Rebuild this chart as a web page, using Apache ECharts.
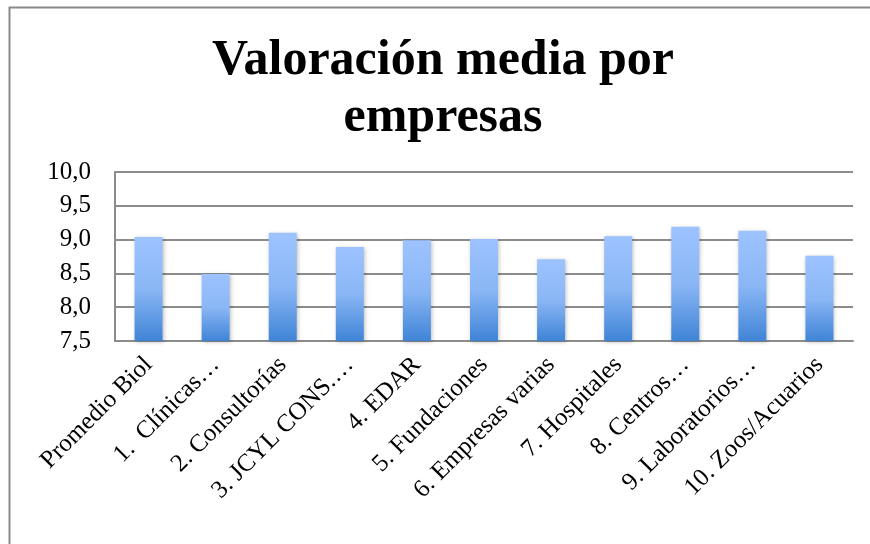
<!DOCTYPE html>
<html>
<head>
<meta charset="utf-8">
<script src="https://cdn.jsdelivr.net/npm/echarts@6/dist/echarts.min.js"></script>
<style>
  html, body { margin: 0; padding: 0; background: #fff; }
  #chart { width: 870px; height: 544px; }
</style>
</head>
<body>
<div id="chart"></div>
<script>
const titleText = "Valoración media por\nempresas";
const categories = [
  "Promedio Biol", "1.  Clínicas…", "2. Consultorías", "3. JCYL CONS.…",
  "4. EDAR", "5. Fundaciones", "6. Empresas varias", "7. Hospitales",
  "8. Centros…", "9. Laboratorios…", "10. Zoos/Acuarios"
];
const values = [9.04, 8.49, 9.10, 8.89, 8.99, 9.01, 8.71, 9.05, 9.19, 9.13, 8.76];

const serif = "'Liberation Serif', 'DejaVu Serif', serif";
const chart = echarts.init(document.getElementById("chart"));

chart.setOption({
  animation: false,
  backgroundColor: "#fff",
  graphic: [{
    type: "polyline",
    shape: { points: [[9.5, 544], [9.5, 7.5], [870, 7.5]] },
    style: { stroke: "#8a8a8a", lineWidth: 2, fill: null }
  }],
  title: {
    text: titleText,
    left: 438,
    textAlign: "center",
    top: 28,
    textStyle: { fontFamily: serif, fontWeight: "bold", fontSize: 50, lineHeight: 57, color: "#000" }
  },
  grid: { left: 115, right: 17, top: 172, bottom: 203 },
  xAxis: {
    type: "category",
    data: categories,
    axisTick: { show: false },
    axisLine: { lineStyle: { color: "#8c8c8c", width: 2 } },
    axisLabel: {
      rotate: 45,
      interval: 0,
      margin: 20,
      fontFamily: serif,
      fontSize: 25,
      color: "#000"
    }
  },
  yAxis: {
    type: "value",
    min: 7.5,
    max: 10,
    interval: 0.5,
    axisLine: { show: true, lineStyle: { color: "#8c8c8c", width: 2 } },
    axisTick: { show: false },
    splitLine: { lineStyle: { color: "#8c8c8c", width: 2 } },
    axisLabel: {
      margin: 24,
      fontFamily: serif,
      fontSize: 25,
      color: "#000",
      formatter: (v) => v.toFixed(1).replace(".", ",")
    }
  },
  series: [{
    type: "bar",
    data: values,
    barWidth: 28,
    itemStyle: {
      color: new echarts.graphic.LinearGradient(0, 0, 0, 1, [
        { offset: 0, color: "#9dc3ff" },
        { offset: 0.5, color: "#8ab6f5" },
        { offset: 1, color: "#3f84d6" }
      ]),
      shadowColor: "rgba(0,0,0,0.25)",
      shadowBlur: 4,
      shadowOffsetX: 1,
      shadowOffsetY: 1
    }
  }]
});
</script>
</body>
</html>
